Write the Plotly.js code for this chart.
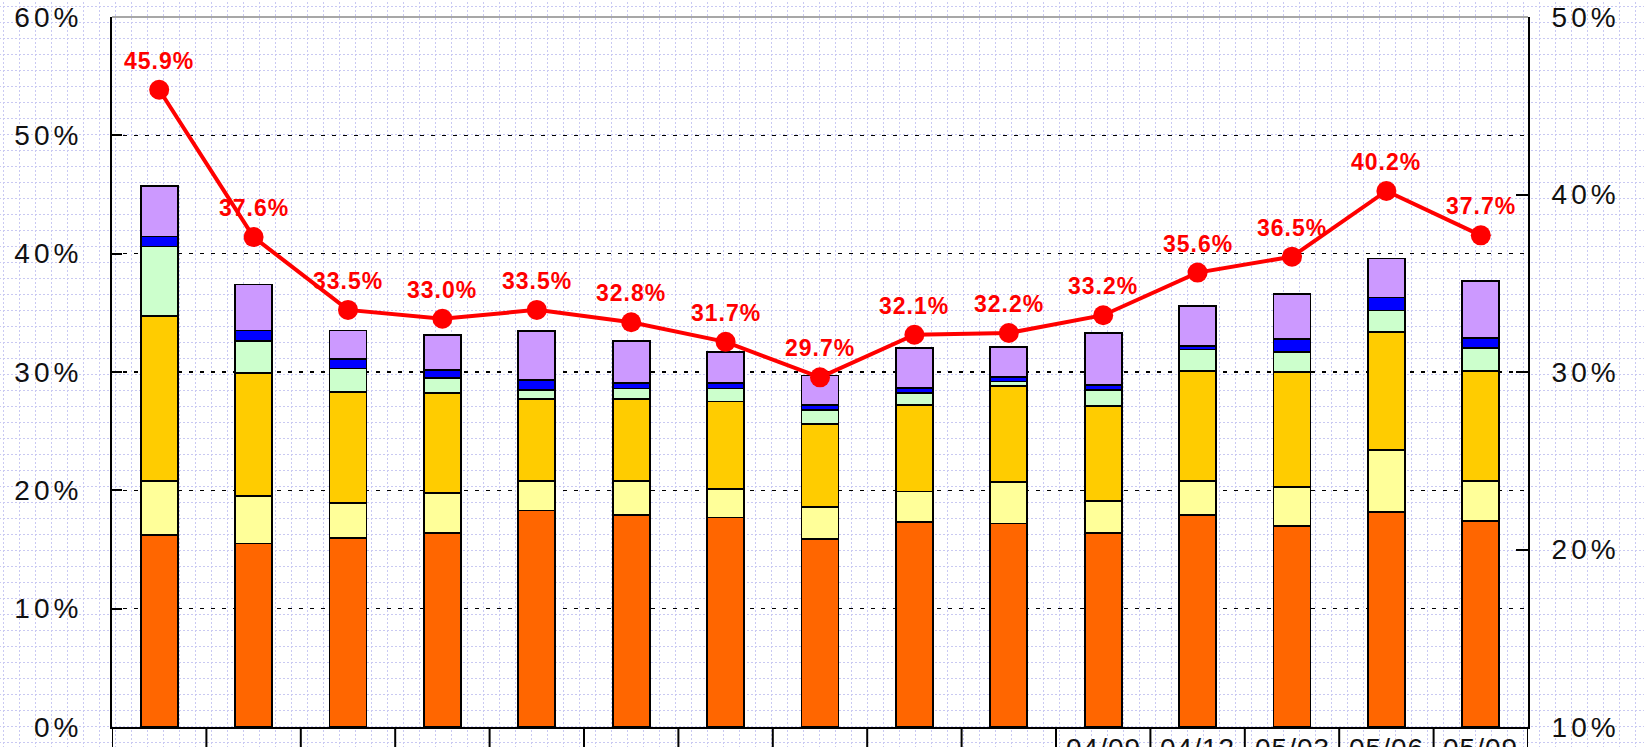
<!DOCTYPE html>
<html>
<head>
<meta charset="utf-8">
<script src="https://cdn.plot.ly/plotly-3.0.1.min.js"></script>
<style>
  html, body { margin: 0; padding: 0; }
  body {
    width: 1644px; height: 747px; overflow: hidden;
    background-color: #ffffff;
    background-image: url("data:image/svg+xml;utf8,<svg xmlns='http://www.w3.org/2000/svg' width='16' height='16'><line x1='0.5' y1='0' x2='0.5' y2='16' stroke='%23c9c9f2' stroke-width='1' stroke-dasharray='2,2'/><line x1='0' y1='0.5' x2='16' y2='0.5' stroke='%23c9c9f2' stroke-width='1' stroke-dasharray='2,2'/></svg>");
    background-position: 3px 6px;
  }
  #chart { width: 1644px; height: 747px; }
  .ytick text, .y2tick text { letter-spacing: 4px; }
  .annotation-text { letter-spacing: 1px; }
</style>
</head>
<body>
<div id="chart"></div>
<script>
// Period labels (the first ten are cut off in the reference)
const periods = ["", "", "", "", "", "", "", "", "", "", "04/09", "04/12", "05/03", "05/06", "05/09"];

// Stacked segments (% of left axis), bottom to top
const seg1 = [16.2, 15.5, 16.0, 16.4, 18.3, 17.9, 17.7, 15.9, 17.3, 17.2, 16.4, 17.9, 17.0, 18.2, 17.4]; // orange
const seg2 = [4.6, 4.0, 2.9, 3.4, 2.5, 2.9, 2.4, 2.7, 2.6, 3.5, 2.7, 2.9, 3.3, 5.2, 3.4];             // light yellow
const seg3 = [13.9, 10.4, 9.4, 8.4, 6.9, 6.9, 7.4, 7.0, 7.3, 8.1, 8.0, 9.3, 9.7, 10.0, 9.3];          // gold
const seg4 = [5.9, 2.7, 2.0, 1.3, 0.8, 0.9, 1.1, 1.2, 1.0, 0.4, 1.4, 1.8, 1.7, 1.8, 1.9];             // light green
const seg5 = [0.85, 0.9, 0.8, 0.7, 0.85, 0.5, 0.5, 0.4, 0.45, 0.4, 0.4, 0.3, 1.1, 1.1, 0.9];         // blue
const seg6 = [4.3, 3.9, 2.4, 2.9, 4.1, 3.5, 2.6, 2.5, 3.4, 2.5, 4.4, 3.4, 3.8, 3.3, 4.8];             // purple

// Line series (right axis)
const ratio = [45.9, 37.6, 33.5, 33.0, 33.5, 32.8, 31.7, 29.7, 32.1, 32.2, 33.2, 35.6, 36.5, 40.2, 37.7];

const segColors = ["#ff6600", "#ffff99", "#ffcc00", "#ccffcc", "#0000ff", "#cc99ff"];
const segs = [seg1, seg2, seg3, seg4, seg5, seg6];
const idx = periods.map((_, i) => i);

const traces = segs.map((s, k) => ({
  type: "bar",
  x: idx,
  y: s,
  marker: { color: segColors[k], line: { color: "#000000", width: 1.8 } },
  hoverinfo: "skip",
  showlegend: false
}));

traces.push({
  type: "scatter",
  mode: "lines+markers",
  x: idx,
  y: ratio,
  yaxis: "y2",
  line: { color: "#ff0000", width: 4 },
  marker: { color: "#ff0000", size: 20 },
  hoverinfo: "skip",
  showlegend: false,
  cliponaxis: false
});

const labelFont = { family: "Liberation Sans, Arial, sans-serif", size: 23, color: "#ff0000", weight: "bold" };
const tickFont = { family: "Liberation Sans, Arial, sans-serif", size: 28, color: "#111111" };

const annotations = ratio.map((v, i) => ({
  x: i, y: v, xref: "x", yref: "y2",
  text: v.toFixed(1) + "%",
  showarrow: false,
  yshift: 29,
  xanchor: "center", yanchor: "middle",
  font: labelFont
}));

// Category labels under the axis (cut off by the picture's lower edge, as in the reference)
periods.forEach((p, i) => {
  if (!p) return;
  annotations.push({
    x: i, y: 0, xref: "x", yref: "paper",
    text: p,
    showarrow: false,
    xanchor: "center", yanchor: "top",
    yshift: -5, borderpad: 0,
    font: tickFont
  });
});

const shapes = [];
for (let i = 0; i <= periods.length; i++) {
  shapes.push({
    type: "line", xref: "x", yref: "paper",
    x0: i - 0.5, x1: i - 0.5, y0: -0.05, y1: 0,
    line: { color: "#000000", width: 2 }
  });
}
shapes.push({
  type: "line", xref: "paper", yref: "paper",
  x0: 0, x1: 1, y0: 1, y1: 1,
  line: { color: "#8a8a8a", width: 1.5 }
});

const layout = {
  width: 1644, height: 747,
  margin: { l: 112, r: 116, t: 17, b: 20 },
  paper_bgcolor: "rgba(0,0,0,0)",
  plot_bgcolor: "rgba(0,0,0,0)",
  barmode: "stack",
  bargap: 0.61,
  showlegend: false,
  xaxis: {
    type: "linear",
    range: [-0.5, periods.length - 0.5],
    showticklabels: false,
    showgrid: false, zeroline: false,
    showline: true, linecolor: "#000000", linewidth: 2,
    ticks: ""
  },
  yaxis: {
    range: [0, 60], dtick: 10, tick0: 0,
    ticksuffix: "%",
    showgrid: true, gridcolor: "#000000", gridwidth: 1.5, griddash: "4px,7px",
    zeroline: false,
    showline: true, linecolor: "#000000", linewidth: 2,
    ticks: "inside", ticklen: 10, tickwidth: 2, tickcolor: "#000000",
    tickfont: tickFont,
    ticklabelstandoff: 22
  },
  yaxis2: {
    overlaying: "y", side: "right",
    range: [10, 50], dtick: 10, tick0: 10,
    ticksuffix: "%",
    showgrid: false, zeroline: false,
    showline: true, linecolor: "#000000", linewidth: 2,
    ticks: "inside", ticklen: 12, tickwidth: 2, tickcolor: "#000000",
    tickfont: tickFont,
    ticklabelstandoff: 16
  },
  annotations: annotations,
  shapes: shapes
};

Plotly.newPlot("chart", traces, layout, { staticPlot: true, displayModeBar: false });
</script>
</body>
</html>
